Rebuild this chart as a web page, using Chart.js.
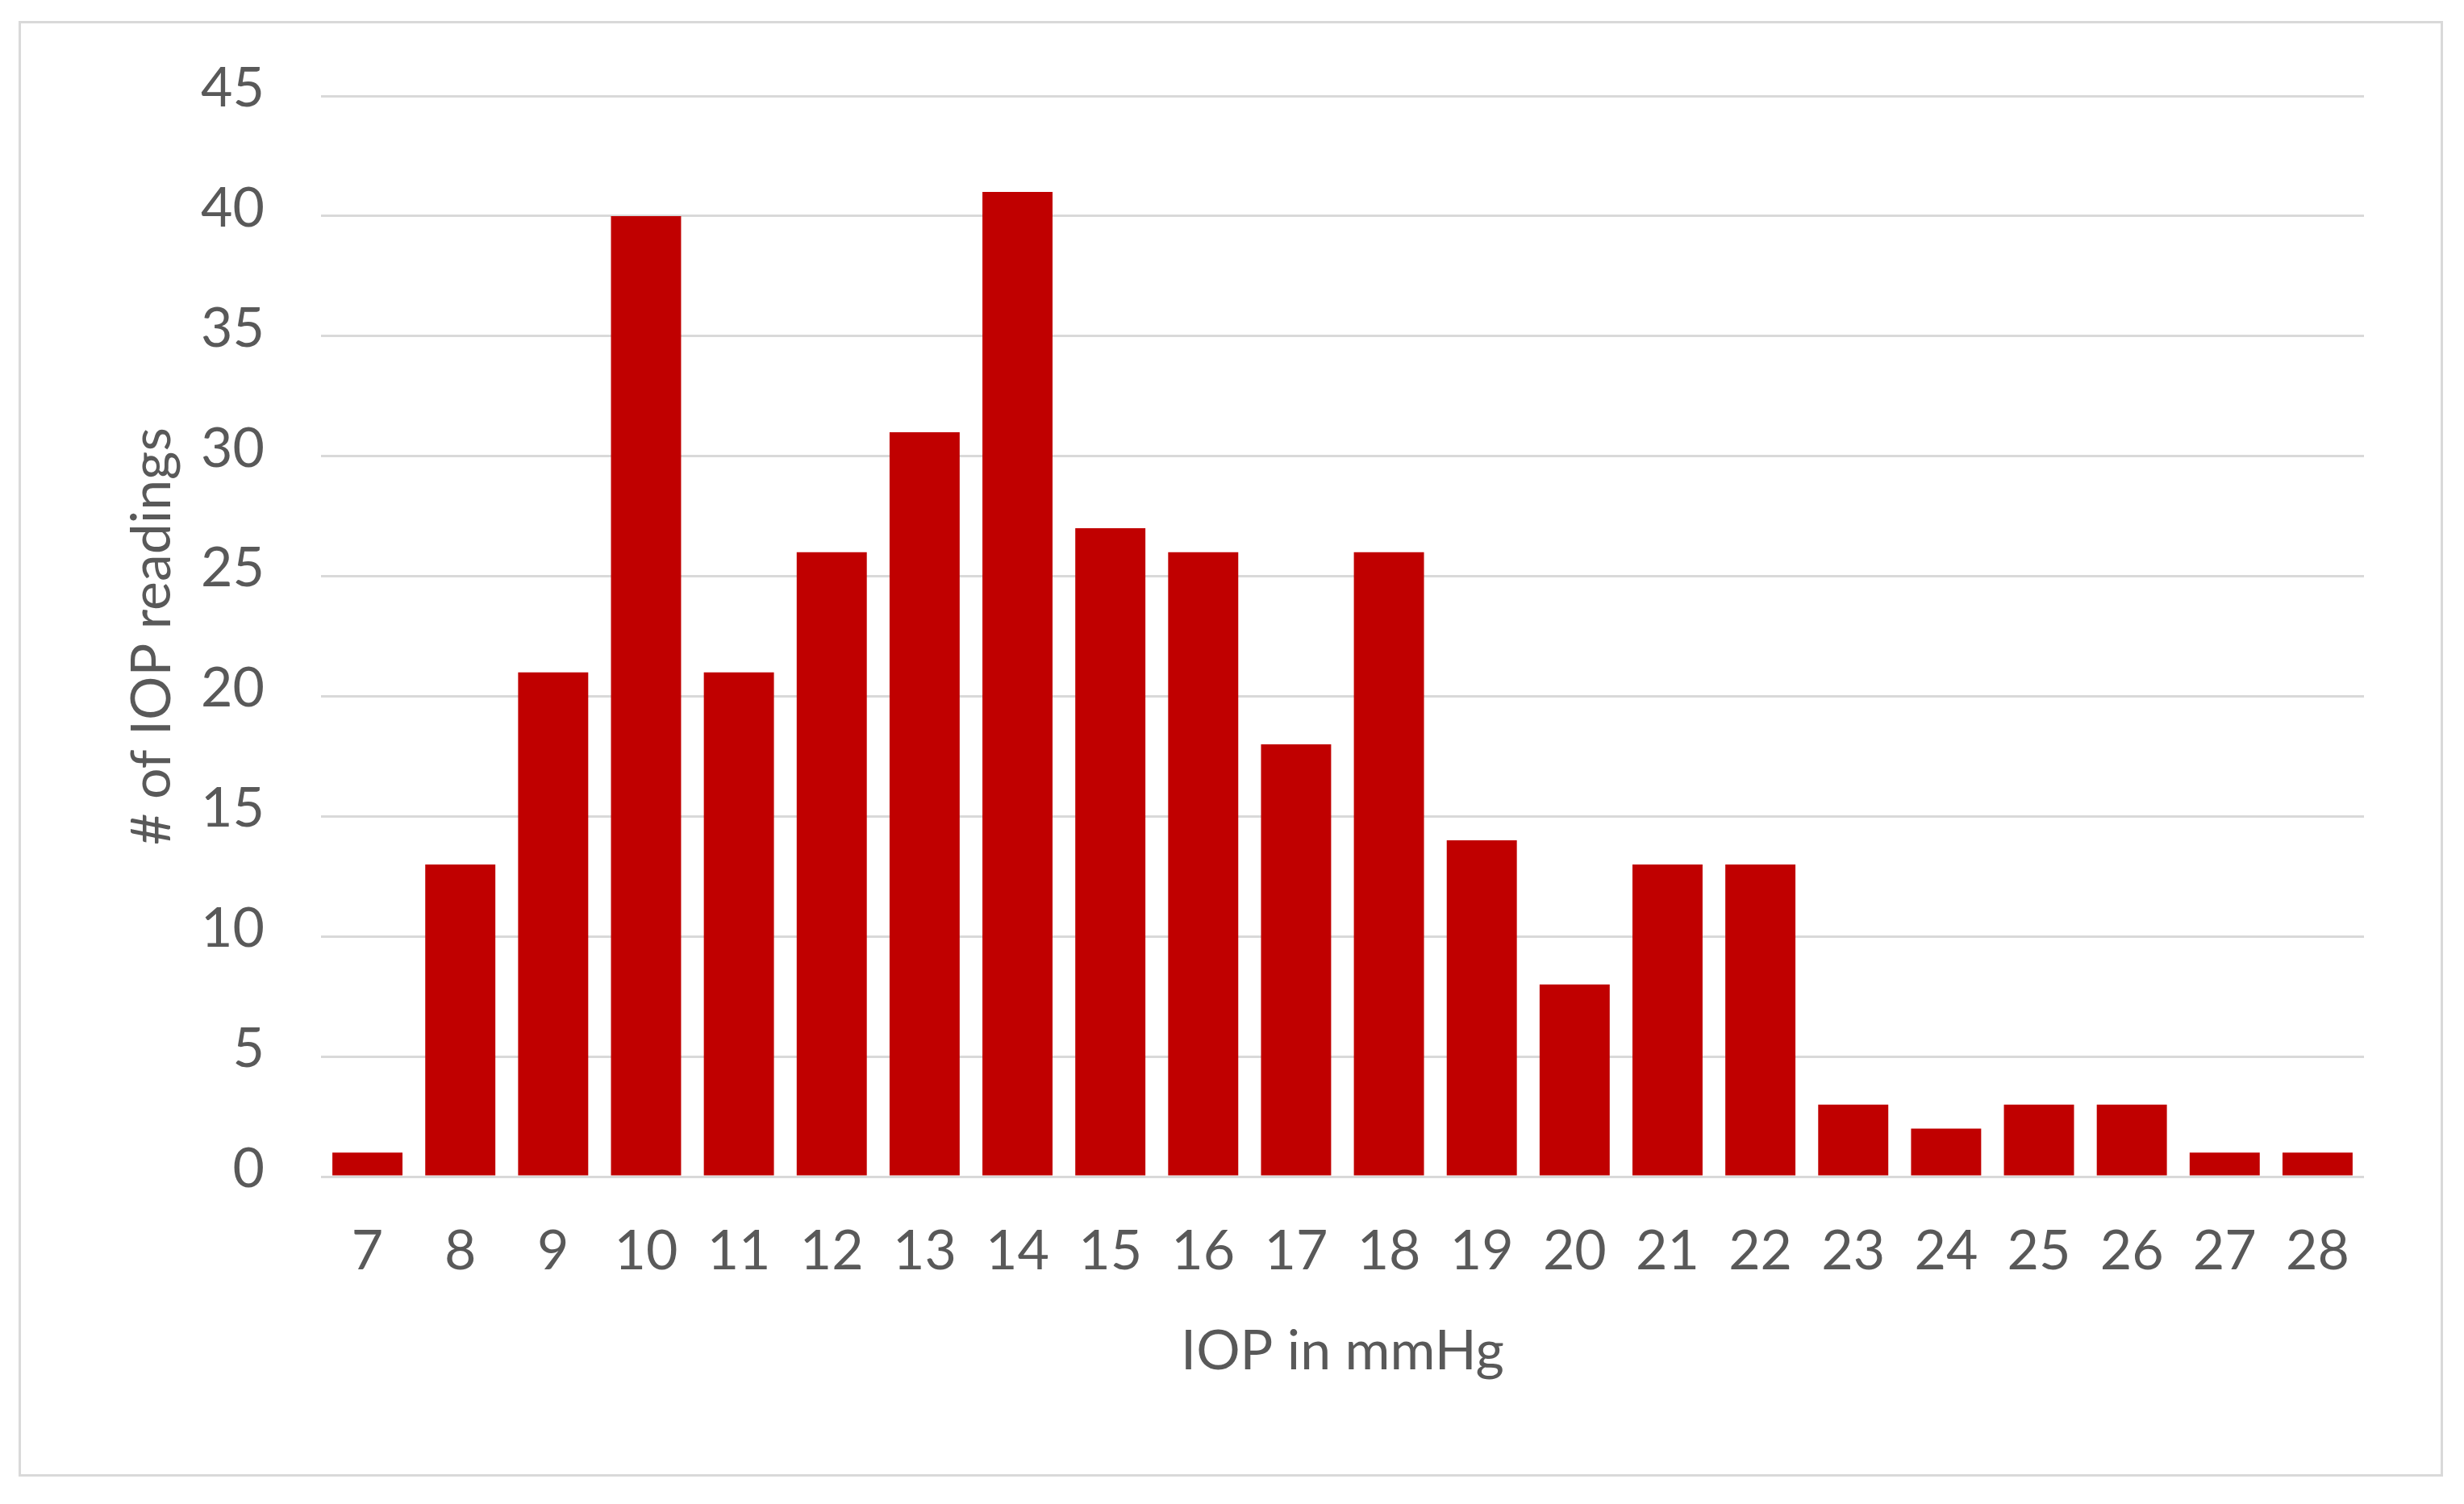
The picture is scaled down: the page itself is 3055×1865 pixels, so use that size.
<!DOCTYPE html>
<html lang="en">
<head>
    <meta charset="UTF-8">
    <title>IOP readings</title>
    <script src="https://cdn.jsdelivr.net/npm/chart.js"></script>
    <style>
        body, html {
            margin: 0;
            padding: 0;
            background: #ffffff;
        }
        #frame {
            position: absolute;
            left: 23px;
            top: 26px;
            width: 3000px;
            height: 1799px;
            border: 3px solid #d9d9d9;
        }
        #wrap {
            position: absolute;
            left: 0;
            top: 0;
            width: 3055px;
            height: 1865px;
        }
    </style>
</head>
<body>
<div id="frame"></div>
<div id="wrap"><canvas id="iopChart"></canvas></div>
<script>
    // IOP values (mmHg) and number of readings per value
    const iopLabels = ['7', '8', '9', '10', '11', '12', '13', '14', '15', '16', '17',
                       '18', '19', '20', '21', '22', '23', '24', '25', '26', '27', '28'];
    const readingCounts = [1, 13, 21, 40, 21, 26, 31, 41, 27, 26, 18,
                           26, 14, 8, 13, 13, 3, 2, 3, 3, 1, 1];
    const yTicks = [0, 5, 10, 15, 20, 25, 30, 35, 40, 45];

    const textGray = '#595959';
    const fontFamily = 'Lato, "Open Sans", sans-serif';

    new Chart(document.getElementById('iopChart'), {
        type: 'bar',
        data: {
            labels: iopLabels,
            datasets: [{
                label: '# of IOP readings',
                data: readingCounts,
                backgroundColor: '#c00000',
                borderWidth: 0,
                categoryPercentage: 1.0,
                barPercentage: 0.755
            }]
        },
        options: {
            responsive: true,
            maintainAspectRatio: false,
            animation: false,
            layout: {
                padding: { top: 119, right: 124, bottom: 0, left: 0 }
            },
            plugins: {
                legend: { display: false },
                tooltip: { enabled: false }
            },
            scales: {
                x: {
                    grid: { display: false, drawTicks: false },
                    border: { display: false },
                    ticks: {
                        color: textGray,
                        font: { family: fontFamily, size: 68 },
                        padding: 52,
                        maxRotation: 0,
                        autoSkip: false
                    },
                    title: {
                        display: true,
                        text: 'IOP in mmHg',
                        color: textGray,
                        font: { family: fontFamily, size: 68 },
                        padding: { top: 0, bottom: 148 }
                    },
                    afterFit: function (scale) {
                        scale.height = 1865 - 1459;
                    }
                },
                y: {
                    min: yTicks[0],
                    max: yTicks[yTicks.length - 1],
                    afterBuildTicks: function (scale) {
                        scale.ticks = yTicks.map(v => ({ value: v }));
                    },
                    grid: { color: '#d9d9d9', lineWidth: 3, drawTicks: false },
                    border: { display: false },
                    ticks: {
                        color: textGray,
                        font: { family: fontFamily, size: 68 },
                        padding: 70,
                        labelOffset: -9
                    },
                    title: {
                        display: true,
                        text: '# of IOP readings',
                        color: textGray,
                        font: { family: fontFamily, size: 68 },
                        padding: { top: 148, bottom: 0 }
                    },
                    afterFit: function (scale) {
                        scale.width = 398;
                    }
                }
            }
        }
    });
</script>
</body>
</html>
